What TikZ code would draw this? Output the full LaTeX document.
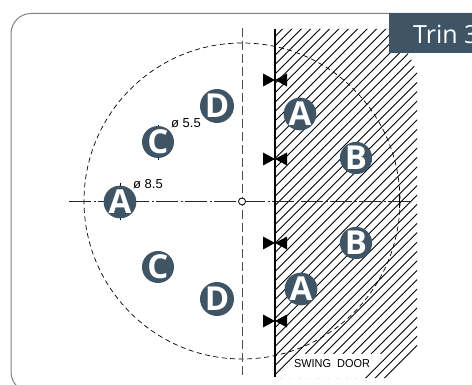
\documentclass[tikz,border=0pt]{standalone}
\usepackage{fontspec}
\setmainfont{Open Sans}
\newfontfamily\dimfont{Liberation Sans}
\definecolor{slate}{HTML}{3F5566}
\tikzset{
  pin/.style={circle,fill=slate,minimum size=32pt,inner sep=0pt,text=white,font=\fontsize{33}{33}\selectfont\bfseries},
  dimtext/.style={font=\dimfont\fontsize{13}{13}\selectfont,inner sep=0pt,text=black},
  bow/.style={fill=black,draw=none},
  tick/.style={line width=0.6pt,black}
}
\begin{document}
\begin{tikzpicture}[x=1pt,y=-1pt]
\useasboundingbox (0,0) rectangle (472,385);
\clip (0,0) rectangle (472,385);
% frame
\draw[line width=1pt,black!50,rounded corners=20pt] (520,13.5) -- (11,13.5) -- (11,392) -- (520,392);
% dashed circle (under the hatching)
\draw[line width=0.7pt,dash pattern=on 5pt off 3.5pt] (242,201) circle[radius=158];
% hatch
\begin{scope}
\clip (275,29) -- (389,29) -- (389,53) -- (408,53) -- (417,72) -- (417,349) -- (392,378) -- (275,378) -- cycle;
\foreach \k in {0,...,54} {
  \draw[line width=0.9pt,black] ({-98+9.4*\k},400) -- ({-98+9.4*\k+400},0);
}
\end{scope}
% white area behind the door label
\fill[white] (275,378) -- (298,354) -- (385,354) -- (361,378) -- cycle;
% title tab
\fill[slate] (389,13) rectangle (472,53);
\node[anchor=west,inner sep=0pt,text=white,font=\fontsize{25}{25}\selectfont] (title) at (413,34) {Trin 3};
% axes
\draw[line width=0.8pt,black!85,dash pattern=on 22pt off 2.5pt on 2pt off 2.5pt] (69,201.5) -- (410,201.5);
\draw[line width=0.8pt,black!70,dash pattern=on 9pt off 4pt] (242,28) -- (242,378);
\draw[line width=0.7pt] (399,195) -- (399,208);
\node[circle,draw=black,fill=white,line width=0.8pt,minimum size=7pt,inner sep=0pt] (centre) at (242,201.5) {};
% door
\draw[line width=1.5pt,black] (275,29) -- (275,377);
% bowties
\foreach \y in {80,159,243,321} {
  \fill[bow] (275,\y) -- (263,{\y-6.5}) -- (263,{\y+6.5}) -- cycle;
  \fill[bow] (275,\y) -- (287,{\y-6.5}) -- (287,{\y+6.5}) -- cycle;
}
% ticks
\draw[tick] (120,183) -- (120,220);
\draw[tick] (158,125) -- (158,160);
% pins
\node[pin] (a1) at (120,202) {A};
\node[pin] (c1) at (158,142) {C};
\node[pin] (d1) at (217,106) {D};
\node[pin] (a2) at (300,114) {A};
\node[pin] (b1) at (356,158) {B};
\node[pin] (b2) at (356,243) {B};
\node[pin] (a3) at (301,289) {A};
\node[pin] (c2) at (158,267) {C};
\node[pin] (d2) at (217,299) {D};
% labels
\node[dimtext,anchor=west] (dim1) at (171,123) {ø 5.5};
\node[dimtext,anchor=west] (dim2) at (133,184) {ø 8.5};
\node[font=\dimfont\fontsize{11.5}{11.5}\selectfont,inner sep=0pt,xscale=0.95] (swing) at (332,364) {SWING\ \ DOOR};
\end{tikzpicture}
\end{document}
